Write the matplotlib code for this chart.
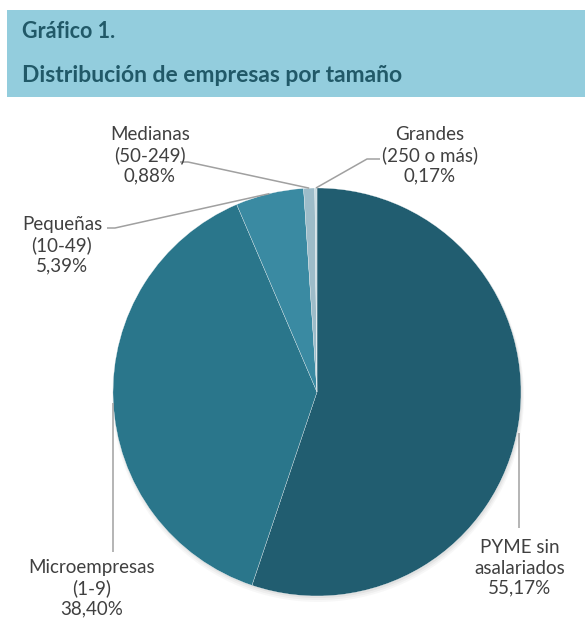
import numpy as np
import matplotlib.pyplot as plt
from matplotlib.patches import Rectangle, Circle

# distribución de empresas por tamaño (%)
categorias = ['PYME sin\nasalariados', 'Microempresas\n(1-9)', 'Pequeñas\n(10-49)',
              'Medianas\n(50-249)', 'Grandes\n(250 o más)']
valores = [55.17, 38.40, 5.39, 0.88, 0.17]
colores = ['#215d70', '#2a768b', '#3a8aa2', '#9dbcc9', '#c9dce3']

# posición de cada etiqueta (px) y codo de la línea guía
pos_texto = [(520, 568), (92, 588), (62, 245), (150, 155), (430, 155)]
codo = [None, None, (115, 228), (188, 162), (367, 159)]
inicio = [(519, 528), (113, 552), (107, 228), (180, 162), (380, 159)]

W, H = 585, 624
fig = plt.figure(figsize=(W / 100, H / 100), dpi=100)
ax = fig.add_axes([0, 0, 1, 1])
ax.set_xlim(0, W)
ax.set_ylim(0, H)
ax.axis('off')

def py(y):
    return H - y

# cabecera
ax.add_patch(Rectangle((7, py(97)), W - 7, 87, facecolor='#93cddd', edgecolor='none'))
ax.text(22, py(31), 'Gráfico 1.', fontsize=15.5, fontweight='bold', color='#215968',
        family='Lato', va='center', ha='left')
ax.text(22, py(75), 'Distribución de empresas por tamaño', fontsize=16.5, fontweight='bold',
        color='#215968', family='Lato', va='center', ha='left')

cx, cy, r = 317, py(392), 204

# sombra suave bajo la tarta
for k, a in enumerate([0.10, 0.08, 0.06]):
    ax.add_patch(Circle((cx + 1, cy - 2 - k), r + k, facecolor='#808080',
                        edgecolor='none', alpha=a, zorder=1))

wedges, _ = ax.pie(valores, colors=colores, startangle=90, counterclock=False,
                   center=(cx, cy), radius=r, frame=True,
                   wedgeprops=dict(edgecolor='white', linewidth=0.2, zorder=2))
ax.set_xlim(0, W)
ax.set_ylim(0, H)
ax.set_aspect('equal')
ax.axis('off')

for i, w in enumerate(wedges):
    ang = np.deg2rad((w.theta1 + w.theta2) / 2)
    ax_, ay_ = cx + r * np.cos(ang), cy + r * np.sin(ang)
    x0, y0 = inicio[i]
    pts = [(x0, py(y0))]
    if codo[i] is not None:
        pts.append((codo[i][0], py(codo[i][1])))
    if i < 2:
        pts.append((x0, ay_ - (8 if i == 0 else 3)))
    else:
        pts.append((ax_, ay_))
    xs, ys = zip(*pts)
    ax.plot(xs, ys, color='#a0a0a0', lw=1.1, zorder=3, solid_capstyle='butt')

    txt = categorias[i] + '\n' + f'{valores[i]:.2f}%'.replace('.', ',')
    tx, ty = pos_texto[i]
    ax.text(tx, py(ty), txt, ha='center', va='center', fontsize=13.5, color='#404040',
            family='Lato', linespacing=1.22, zorder=4)

fig.savefig('out.png', dpi=100)
